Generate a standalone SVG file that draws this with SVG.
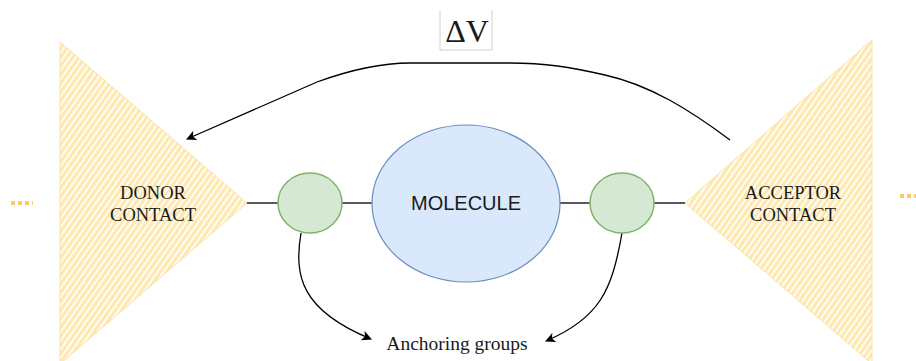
<svg xmlns="http://www.w3.org/2000/svg" width="916" height="361" viewBox="0 0 916 361">
<defs>
<pattern id="hatch" patternUnits="userSpaceOnUse" width="5" height="5" patternTransform="rotate(-55)">
<rect width="5" height="5" fill="#fffcf4"/>
<line x1="0" y1="2.5" x2="5" y2="2.5" stroke="#fee8b0" stroke-width="3"/>
</pattern>
<marker id="arr" viewBox="0 0 10 10" refX="9" refY="5" markerWidth="10" markerHeight="10" markerUnits="userSpaceOnUse" orient="auto">
<path d="M0,0 L10,5 L0,10 L2.5,5 Z" fill="#000"/>
</marker>
</defs>
<style>
.tri{fill:url(#hatch);stroke:#f8e2a8;stroke-width:1}
.serif{font-family:"Liberation Serif","Times New Roman",serif;fill:#1a1a1a}
.anchor{fill:#d5e8d4;stroke:#82b366;stroke-width:1.5}
.mol{fill:#dae8fc;stroke:#6c8ebf;stroke-width:1.2}
.conn{fill:none;stroke:#000;stroke-width:1.3}
.dots{stroke:#f5cf6a;stroke-width:4;stroke-dasharray:4 3}
</style>
<g id="donor">
<polygon class="tri" points="60,42 247,203 60,364"/>
<text class="serif" x="153" y="199" font-size="18.5" text-anchor="middle">DONOR</text>
<text class="serif" x="153" y="221" font-size="18.5" text-anchor="middle">CONTACT</text>
</g>
<g id="acceptor">
<polygon class="tri" points="872,40 685,203 872,364"/>
<text class="serif" x="793" y="199" font-size="18.5" text-anchor="middle">ACCEPTOR</text>
<text class="serif" x="793" y="221" font-size="18.5" text-anchor="middle">CONTACT</text>
</g>
<g id="dots-left"><line class="dots" x1="11" y1="203" x2="33" y2="203"/></g>
<g id="dots-right"><line class="dots" x1="900" y1="196" x2="916" y2="196"/></g>
<g id="connectors">
<line class="conn" x1="247" y1="203" x2="278" y2="203"/>
<line class="conn" x1="342" y1="203" x2="372" y2="203"/>
<line class="conn" x1="560" y1="203" x2="590" y2="203"/>
<line class="conn" x1="654" y1="203" x2="685" y2="203"/>
<path class="conn" d="M730,140 C690,110 650,85 605,75 C570,67 545,63 510,63 L410,63 C380,63 350,70 317,82 L187,139" marker-end="url(#arr)"/>
<path class="conn" d="M301,233 C294,275 300,310 371,339" marker-end="url(#arr)"/>
<path class="conn" d="M622,233 C612,290 600,318 546,341" marker-end="url(#arr)"/>
</g>
<g id="anchor-left"><ellipse class="anchor" cx="310" cy="203" rx="32" ry="30"/></g>
<g id="molecule">
<ellipse class="mol" cx="466" cy="203.5" rx="94" ry="78.5"/>
<text x="466" y="210" font-family="Liberation Sans, Arial, sans-serif" font-size="20" text-anchor="middle" fill="#1a1a1a">MOLECULE</text>
</g>
<g id="anchor-right"><ellipse class="anchor" cx="622" cy="203" rx="32" ry="30"/></g>
<g id="deltaV">
<path d="M440,10 L440,50 L492,50 L492,10" fill="#fff" stroke="#d0d0d0" stroke-width="1"/>
<text class="serif" x="467" y="42" font-size="32" text-anchor="middle">ΔV</text>
</g>
<g id="label-anchoring">
<text class="serif" x="457" y="350" font-size="19.5" text-anchor="middle">Anchoring groups</text>
</g>
</svg>
